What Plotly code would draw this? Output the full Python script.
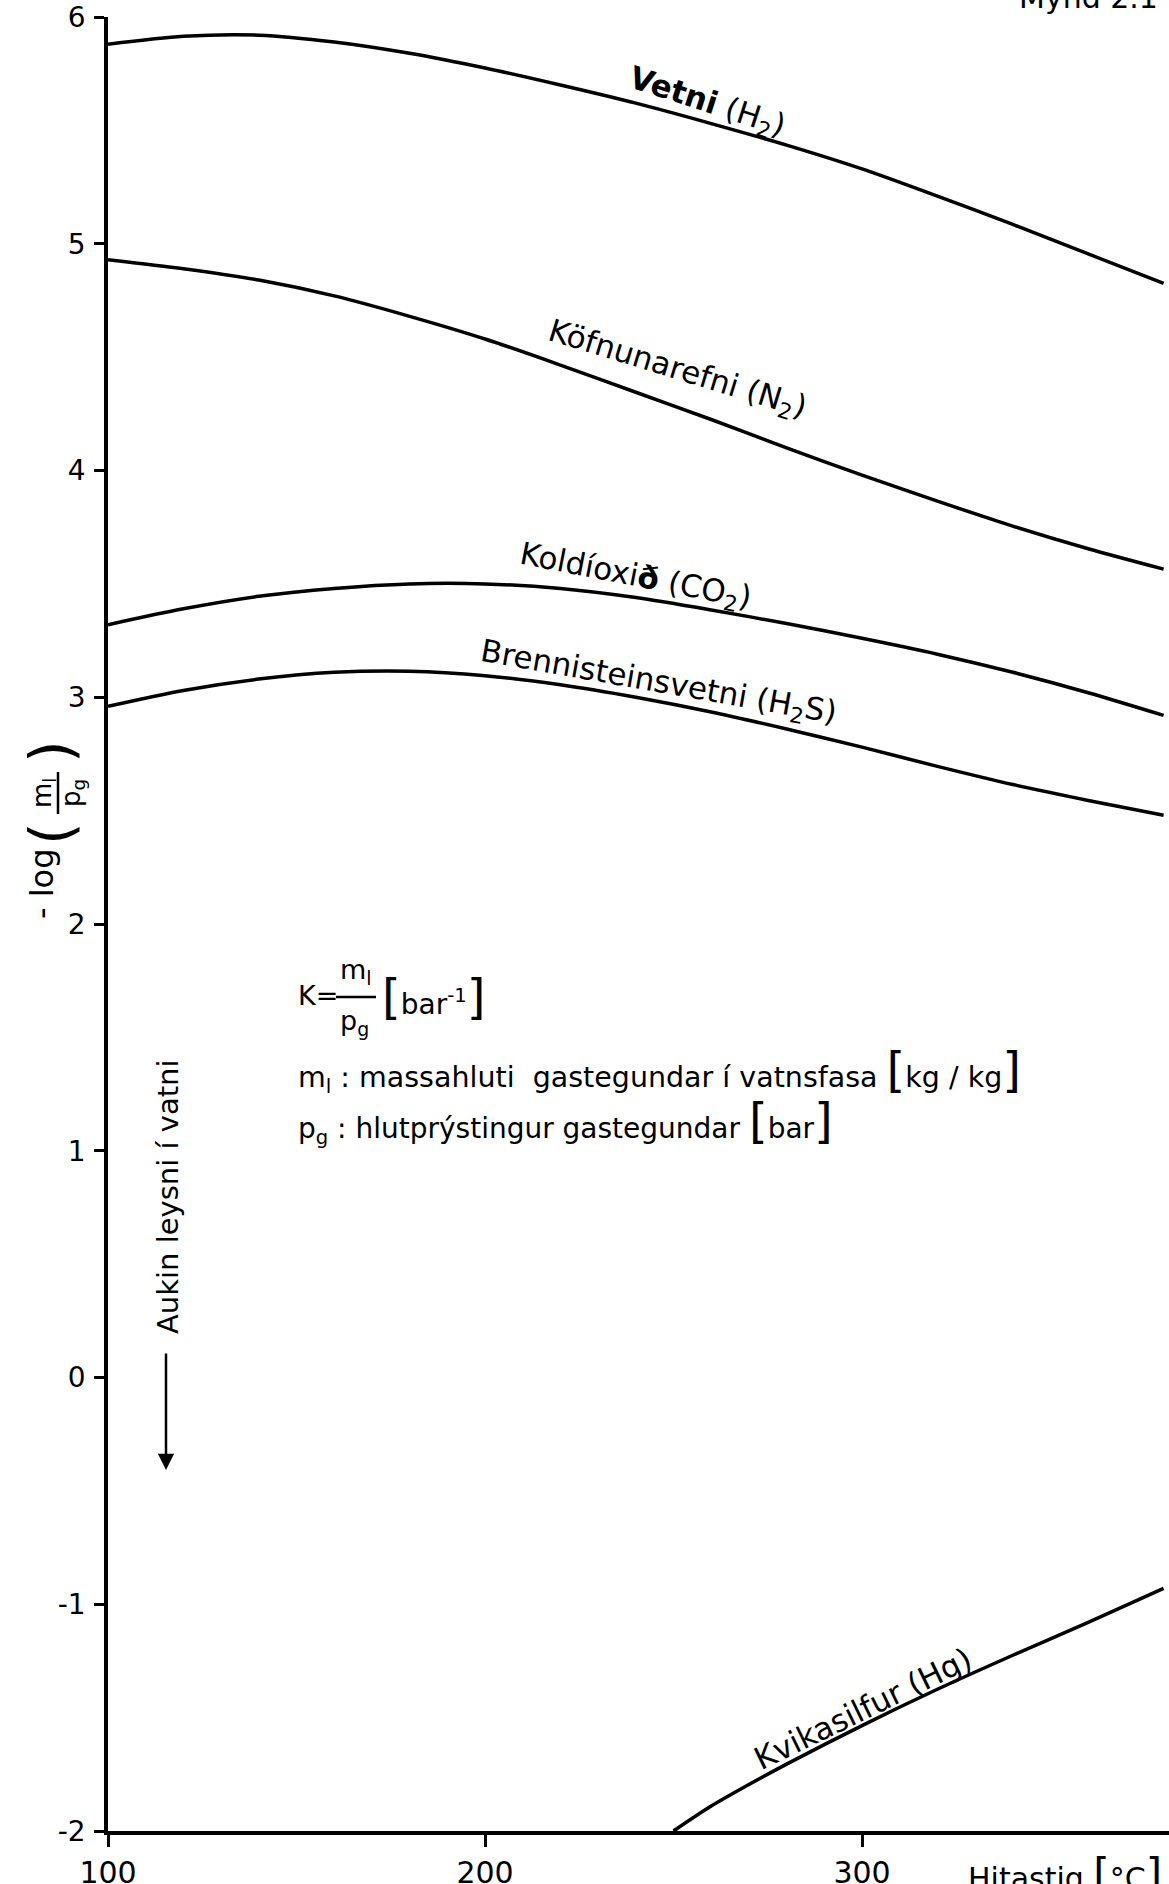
import plotly.graph_objects as go

# ---------------- data ----------------
temp = [100, 120, 140, 160, 180, 200, 220, 240, 260, 280, 300, 320, 340, 360, 380]
vetni_h2 = [5.88, 5.915, 5.92, 5.89, 5.84, 5.775, 5.70, 5.62, 5.53, 5.435, 5.33, 5.21, 5.085, 4.955, 4.825]
kofnunarefni_n2 = [4.93, 4.89, 4.84, 4.77, 4.68, 4.58, 4.465, 4.345, 4.225, 4.10, 3.98, 3.865, 3.755, 3.655, 3.565]
koldioxid_co2 = [3.32, 3.39, 3.445, 3.48, 3.50, 3.50, 3.48, 3.44, 3.385, 3.325, 3.26, 3.19, 3.11, 3.02, 2.92]
brennisteinsvetni_h2s = [2.96, 3.03, 3.08, 3.11, 3.115, 3.095, 3.055, 3.00, 2.935, 2.86, 2.78, 2.695, 2.615, 2.545, 2.48]

temp_hg = [250, 260, 270, 280, 300, 320, 340, 360, 380]
kvikasilfur_hg = [-2.00, -1.89, -1.795, -1.705, -1.535, -1.375, -1.225, -1.08, -0.93]

x_ticks = [100, 200, 300]
x_tick_labels = ["100", "200", "300"]
y_ticks = [-2, -1, 0, 1, 2, 3, 4, 5, 6]
y_tick_labels = ["-2", "-1", "0", "1", "2", "3", "4", "5", "6"]

# ---------------- layout geometry ----------------
W, H = 1169, 1884
ML, MR, MT, MB = 108, 0, 17, 53
PW, PH = W - ML - MR, H - MT - MB
FONT = "DejaVu Sans"


def px(xp):
    return (xp - ML) / PW


def py(yp):
    return 1 - (yp - MT) / PH


fig = go.Figure()
line_style = dict(color="black", width=3.5, shape="spline", smoothing=0.8)
for ys in [vetni_h2, kofnunarefni_n2, koldioxid_co2, brennisteinsvetni_h2s]:
    fig.add_trace(go.Scatter(x=temp, y=ys, mode="lines", line=line_style, hoverinfo="skip"))
fig.add_trace(go.Scatter(x=temp_hg, y=kvikasilfur_hg, mode="lines", line=line_style, hoverinfo="skip"))

ann = []


def note(x, y, text, size, ref="paper", angle=0, xanchor="center", **kw):
    d = dict(x=x, y=y, xref="x" if ref == "data" else "paper", yref="y" if ref == "data" else "paper",
             text=text, textangle=angle, showarrow=False, xanchor=xanchor, yanchor="middle",
             font=dict(family=FONT, size=size, color="black"))
    d.update(kw)
    ann.append(d)


# curve labels
note(259, 5.62, "<b>Vetni</b> (H<sub>2</sub>)", 31, ref="data", angle=18)
note(251, 4.44, "Köfnunarefni (N<sub>2</sub>)", 31, ref="data", angle=17)
note(240, 3.53, "Koldíoxi<b>ð</b> (CO<sub>2</sub>)", 31, ref="data", angle=11)
note(246, 3.06, "Brennisteinsvetni (H<sub>2</sub>S)", 31, ref="data", angle=10)
note(300, -1.46, "Kvikasilfur (Hg)", 31, ref="data", angle=-26)

# y-axis title: - log ( m_l / p_g )
note(px(42), py(884), "- log", 32, angle=-90)
note(px(52), py(834), "(", 58, angle=-90)
note(px(52), py(752), ")", 58, angle=-90)
note(px(43), py(793), "m<sub>l</sub>", 26, angle=-90)
note(px(72), py(793), "p<sub>g</sub>", 26, angle=-90)

# side note with arrow
note(px(168), py(1197), "Aukin leysni í vatni", 29, angle=-90)
ann.append(dict(x=px(166), y=py(1470), xref="paper", yref="paper", text="",
                showarrow=True, ax=0, ay=-118, arrowhead=2, arrowsize=1.3, arrowwidth=2.5,
                arrowcolor="black"))

# formula block
BR = "<span style='font-size:48px'>[</span>"
BRc = "<span style='font-size:48px'>]</span>"
note(px(296), py(995), "K=", 27, xanchor="left")
note(px(356), py(971), "m<sub>l</sub>", 27)
note(px(354), py(1022), "p<sub>g</sub>", 27)
note(px(380), py(997), BR + "bar<sup>-1</sup>" + BRc, 28, xanchor="left")
note(px(296), py(1070), "m<sub>l</sub> : massahluti  gastegundar í vatnsfasa " + BR + "kg / kg" + BRc,
     28.5, xanchor="left")
note(px(296), py(1121), "p<sub>g</sub> : hlutprýstingur gastegundar " + BR + "bar" + BRc,
     28, xanchor="left")

# x-axis title (cut off at the bottom edge like the reference)
note(px(966), py(1874), "Hitastig <span style='font-size:42px'>[</span>°C<span style='font-size:42px'>]</span>",
     30, xanchor="left")
# figure caption cut off at the top edge
note(px(1088), py(-3), "Mynd 2.1", 30)

shapes = [
    dict(type="line", xref="paper", yref="paper", x0=px(336), x1=px(376), y0=py(997), y1=py(997),
         line=dict(color="black", width=2.5)),
    dict(type="line", xref="paper", yref="paper", x0=px(58), x1=px(58), y0=py(772), y1=py(814),
         line=dict(color="black", width=2.5)),
]

fig.update_layout(
    width=W, height=H,
    margin=dict(l=ML, r=MR, t=MT, b=MB, pad=0, autoexpand=False),
    paper_bgcolor="white", plot_bgcolor="white",
    showlegend=False,
    annotations=ann,
    shapes=shapes,
    font=dict(family=FONT, color="black"),
)
fig.update_xaxes(
    range=[100, 100 + PW / 3.77], tickvals=x_ticks, ticktext=x_tick_labels, automargin=False,
    showline=True, linecolor="black", linewidth=3.5, ticks="outside", ticklen=12, tickwidth=2.5,
    tickcolor="black", showgrid=False, zeroline=False, ticklabelstandoff=0,
    tickfont=dict(family=FONT, size=30, color="black"),
)
fig.update_yaxes(
    range=[-2, 6], tickvals=y_ticks, ticktext=y_tick_labels, automargin=False,
    showline=True, linecolor="black", linewidth=3.5, ticks="outside", ticklen=10, tickwidth=2.5,
    tickcolor="black", showgrid=False, zeroline=False, ticklabelstandoff=3,
    tickfont=dict(family=FONT, size=28, color="black"),
)

fig.write_html("out.html")
